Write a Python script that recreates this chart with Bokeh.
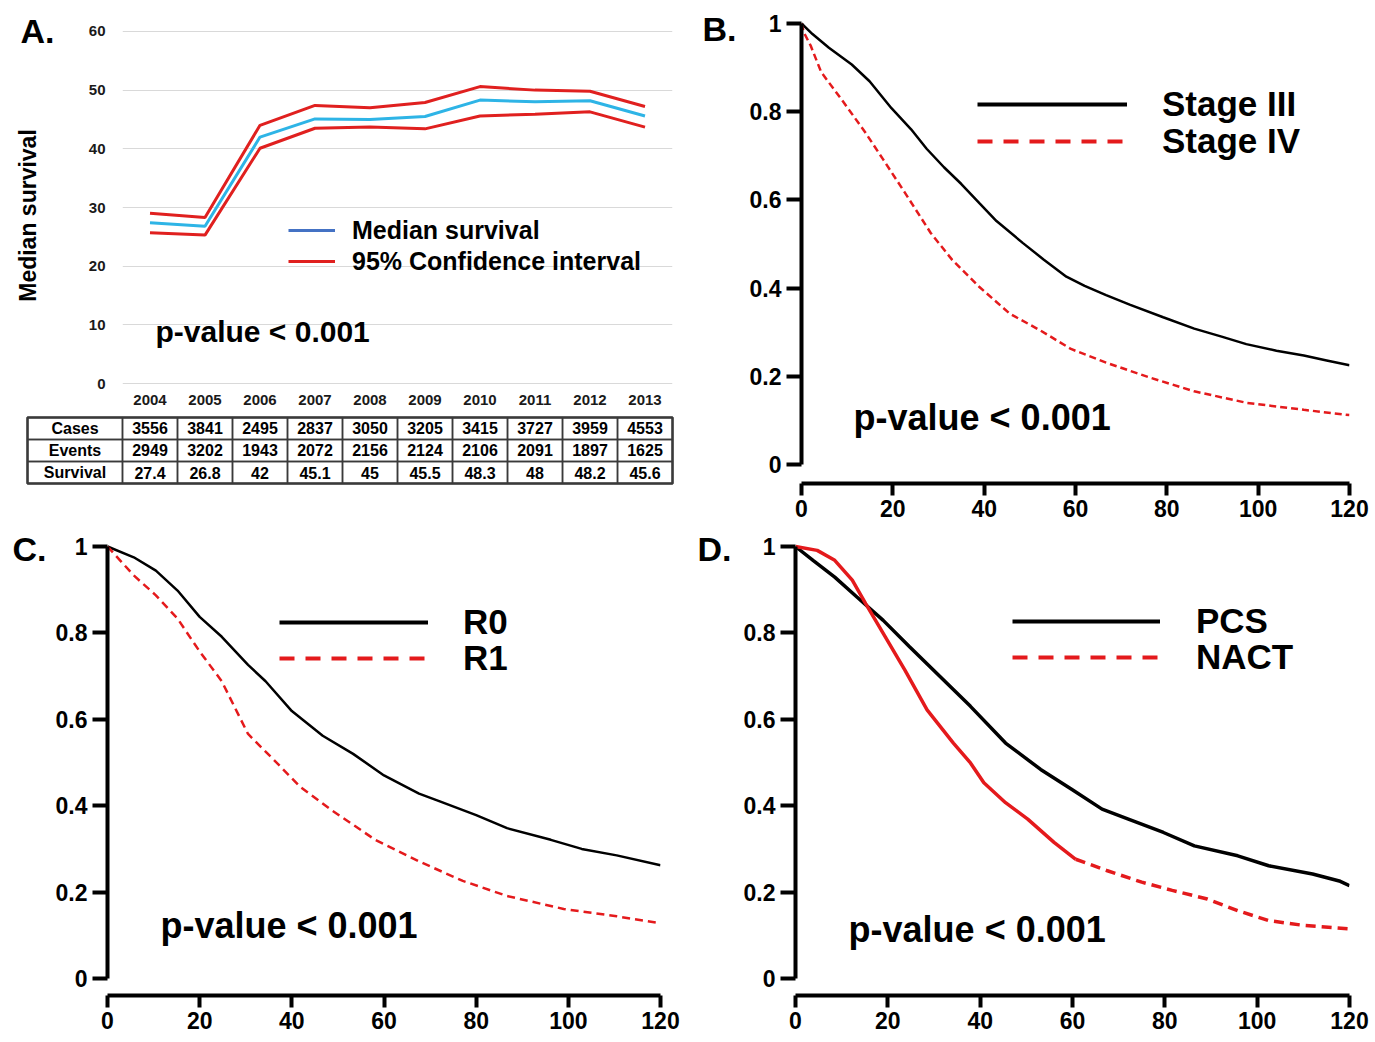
import math
from bokeh.plotting import figure
from bokeh.models import Range1d, FactorRange, FixedTicker, Label, Legend, LegendItem
from bokeh.layouts import column, row
from bokeh.embed import file_html
from bokeh.resources import INLINE
from bokeh.core.properties import value

FONT = "Liberation Sans"

# ---------------- Panel A data ----------------
years = ["2004", "2005", "2006", "2007", "2008", "2009", "2010", "2011", "2012", "2013"]
median_survival = [27.4, 26.8, 42, 45.1, 45, 45.5, 48.3, 48, 48.2, 45.6]
ci_upper = [29.0, 28.3, 44.0, 47.4, 47.0, 47.9, 50.6, 50.0, 49.8, 47.2]
ci_lower = [25.7, 25.3, 40.1, 43.5, 43.7, 43.4, 45.6, 45.9, 46.3, 43.7]
a_yticks = [0, 10, 20, 30, 40, 50, 60]
table_row_names = ["Cases", "Events", "Survival"]
cases = [3556, 3841, 2495, 2837, 3050, 3205, 3415, 3727, 3959, 4553]
events = [2949, 3202, 1943, 2072, 2156, 2124, 2106, 2091, 1897, 1625]

# ---------------- KM data (months, survival) ----------------
km_xticks = [0, 20, 40, 60, 80, 100, 120]
km_yticks = [0, 0.2, 0.4, 0.6, 0.8, 1]
km_ytick_labels = ["0", "0.2", "0.4", "0.6", "0.8", "1"]

stage3_m = [0, 2.4, 6, 11, 14.9, 19.7, 24, 27.4, 31.2, 35, 39, 42.7, 48.5, 53, 58, 62, 66.7, 72, 79.2, 86, 92, 97.4, 104, 110, 115, 120]
stage3_s = [1.0, 0.976, 0.945, 0.907, 0.869, 0.808, 0.76, 0.716, 0.674, 0.636, 0.592, 0.552, 0.502, 0.465, 0.426, 0.405, 0.384, 0.362, 0.334, 0.308, 0.29, 0.273, 0.258, 0.247, 0.236, 0.225]
stage4_m = [0, 0.5, 2, 4.3, 9.1, 13.9, 17.8, 22.6, 28.3, 33, 38.9, 45.6, 52.3, 59, 66.7, 76.3, 86, 97.4, 110, 120]
stage4_s = [1.0, 0.98, 0.95, 0.89, 0.823, 0.754, 0.693, 0.617, 0.525, 0.464, 0.403, 0.342, 0.304, 0.262, 0.231, 0.197, 0.166, 0.140, 0.124, 0.112]

r0_m = [0, 5.7, 10.5, 15.2, 20, 24.8, 30.5, 34.3, 40, 46.7, 53.3, 60, 67.6, 72.4, 80, 86.7, 96.2, 102.9, 110.5, 120]
r0_s = [1.0, 0.975, 0.944, 0.898, 0.837, 0.791, 0.726, 0.688, 0.619, 0.562, 0.520, 0.470, 0.428, 0.409, 0.378, 0.348, 0.321, 0.300, 0.285, 0.262]
r1_m = [0, 5.7, 10.5, 15.2, 20, 24.8, 30.5, 36.2, 41.9, 48.6, 58.1, 67.6, 77.1, 86.7, 99, 110.5, 120]
r1_s = [1.0, 0.933, 0.887, 0.833, 0.757, 0.688, 0.566, 0.505, 0.443, 0.390, 0.321, 0.271, 0.226, 0.191, 0.161, 0.144, 0.128]

pcs_m = [0, 3.8, 8.5, 13.3, 19, 24.7, 31.3, 37.9, 45.5, 53.1, 59.8, 66.4, 72.1, 79.7, 86.4, 95.8, 102.5, 112, 118, 120]
pcs_s = [1.0, 0.968, 0.929, 0.883, 0.829, 0.768, 0.699, 0.630, 0.545, 0.484, 0.438, 0.392, 0.369, 0.338, 0.307, 0.284, 0.261, 0.242, 0.225, 0.215]
nact_m = [0, 4.7, 8.5, 12.3, 15.2, 19, 23.7, 28.5, 34.2, 37.9, 40.8, 45.5, 50.3, 56, 60.7, 67.4, 75, 81.6, 89.2, 95.8, 102.5, 110, 120]
nact_s = [1.0, 0.991, 0.968, 0.922, 0.868, 0.799, 0.714, 0.622, 0.545, 0.499, 0.453, 0.407, 0.369, 0.315, 0.276, 0.250, 0.223, 0.204, 0.184, 0.157, 0.134, 0.123, 0.115]
nact_dash_from = 60.7

RED = "#E41A1C"


def bold_label(text, x, y, size, units="screen", angle=0.0, align="left"):
    return Label(x=x, y=y, x_units=units, y_units=units, text=text, angle=angle,
                 text_font=FONT, text_font_style="bold", text_font_size=size,
                 text_align=align, text_baseline="middle", text_color="black")


def one_legend(p, label, renderer, x, y, gw, gh, standoff, size):
    leg = Legend(items=[LegendItem(label=label, renderers=[renderer])],
                 location=(x, y), glyph_width=gw, glyph_height=gh, label_height=gh,
                 label_standoff=standoff, padding=0, margin=0, spacing=0,
                 border_line_color=None, background_fill_alpha=0,
                 label_text_font=FONT, label_text_font_style="bold",
                 label_text_font_size=size, label_text_color="black")
    p.add_layout(leg)


def blank_fig(w, h):
    f = figure(width=w, height=h, x_range=Range1d(0, w), y_range=Range1d(0, h),
               output_backend="svg", toolbar_location=None, min_border=0,
               x_axis_location=None, y_axis_location=None)
    f.outline_line_color = None
    f.grid.visible = False
    return f


# ---------------- Panel A chart ----------------
letterA = blank_fig(62, 414)
letterA.add_layout(bold_label("A.", 20, 384, "34px"))
letterA.add_layout(bold_label("Median survival", 27, 199, "23px", angle=math.pi / 2, align="center"))

pA = figure(width=628, height=414, x_range=FactorRange(*years), y_range=Range1d(-0.5, 60.5),
            output_backend="svg", toolbar_location=None,
            min_border_left=60, min_border_right=18, min_border_top=28, min_border_bottom=28)
pA.outline_line_color = None
pA.xgrid.visible = False
pA.ygrid.grid_line_color = "#d9d9d9"
pA.ygrid.grid_line_width = 1.2
pA.yaxis.ticker = FixedTicker(ticks=a_yticks)
for ax in (pA.xaxis[0], pA.yaxis[0]):
    ax.axis_line_color = None
    ax.major_tick_out = 0
    ax.major_tick_in = 0
    ax.minor_tick_out = 0
    ax.minor_tick_in = 0
    ax.major_label_text_font = FONT
    ax.major_label_text_font_style = "bold"
    ax.major_label_text_color = "#1a1a1a"
pA.xaxis.major_label_text_font_size = "15px"
pA.xaxis.major_label_standoff = 8
pA.yaxis.major_label_text_font_size = "15px"
pA.yaxis.major_label_standoff = 17

pA.line(years, ci_upper, line_color="#E0201F", line_width=3)
pA.line(years, ci_lower, line_color="#E0201F", line_width=3)
pA.line(years, median_survival, line_color="#2EB4E6", line_width=3)
legA1 = pA.line(years[:1], median_survival[:1], line_color="#4472C4", line_width=3)
legA2 = pA.line(years[:1], ci_upper[:1], line_color="#E0201F", line_width=3)
one_legend(pA, "Median survival", legA1, 166, 141, 47, 30, 17, "25px")
one_legend(pA, "95% Confidence interval", legA2, 166, 110, 47, 30, 17, "25px")
pA.add_layout(bold_label("p-value < 0.001", 33, 55, "30px"))

# ---------------- Panel A table ----------------
pT = figure(width=690, height=114, x_range=Range1d(-2.218, 10.327), y_range=Range1d(5.045, -0.136),
            output_backend="svg", toolbar_location=None, min_border=0,
            x_axis_location=None, y_axis_location=None)
pT.outline_line_color = None
pT.grid.visible = False
table_values = [[str(v) for v in cases], [str(v) for v in events], [f"{v:g}" for v in median_survival]]
label_col_left = -1.727
cl, cr, ct, cb, cx, cy, ctxt = [], [], [], [], [], [], []
for r, name in enumerate(table_row_names):
    cl.append(label_col_left); cr.append(0); ct.append(r); cb.append(r + 1)
    cx.append(label_col_left / 2); cy.append(r + 0.5); ctxt.append(name)
    for i, txt in enumerate(table_values[r]):
        cl.append(i); cr.append(i + 1); ct.append(r); cb.append(r + 1)
        cx.append(i + 0.5); cy.append(r + 0.5); ctxt.append(txt)
pT.quad(left=cl, right=cr, top=ct, bottom=cb, fill_color=None, line_color="#3a3a3a", line_width=1.5)
pT.quad(left=[label_col_left], right=[len(years)], top=[0], bottom=[len(table_row_names)],
        fill_color=None, line_color="#3a3a3a", line_width=2.5)
pT.text(x=cx, y=cy, text=ctxt, text_font=value(FONT), text_font_style="bold", text_font_size="16px",
        text_align="center", text_baseline="middle", text_color="black")


# ---------------- KM panels ----------------
def km_panel(W, H, fl, fr, y1, y0, xb, curves, legends, leg_x, leg_y, gw, standoff, pval_xy):
    ppu = y0 - y1
    p = figure(width=W, height=H, x_range=Range1d(0, 120),
               y_range=Range1d(-(xb - y0) / ppu, 1 + 4 / ppu),
               output_backend="svg", toolbar_location=None,
               min_border_left=fl, min_border_right=W - fr, min_border_top=y1 - 4, min_border_bottom=H - xb)
    p.outline_line_color = None
    p.grid.visible = False
    p.xaxis.ticker = FixedTicker(ticks=km_xticks)
    p.xaxis.bounds = (0, 120)
    p.yaxis.ticker = FixedTicker(ticks=km_yticks)
    p.yaxis.bounds = (0, 1)
    p.yaxis.major_label_overrides = {t: l for t, l in zip(km_yticks, km_ytick_labels)}
    for ax in (p.xaxis[0], p.yaxis[0]):
        ax.axis_line_width = 4
        ax.axis_line_color = "black"
        ax.major_tick_line_width = 4
        ax.major_tick_line_color = "black"
        ax.major_tick_in = 0
        ax.minor_tick_out = 0
        ax.minor_tick_in = 0
        ax.major_label_text_font = FONT
        ax.major_label_text_font_style = "bold"
        ax.major_label_text_font_size = "23px"
        ax.major_label_text_color = "black"
    p.xaxis.major_tick_out = 12
    p.xaxis.major_label_standoff = 4
    p.yaxis.major_tick_out = 15
    p.yaxis.major_label_standoff = 5
    for (xs, ys, color, width, dash) in curves:
        p.line(xs, ys, line_color=color, line_width=width, line_dash=dash)
    for k, (lab, xs, ys, color, dash) in enumerate(legends):
        r = p.line(xs[:1], ys[:1], line_color=color, line_width=4, line_dash=dash)
        one_legend(p, lab, r, leg_x, leg_y[k], gw, 40, standoff, "35px")
    p.add_layout(bold_label("p-value < 0.001", pval_xy[0], pval_xy[1], "36px", units="data"))
    return p


letterB = blank_fig(55, 528)
letterB.add_layout(bold_label("B.", 12, 500, "34px"))
pB = km_panel(629, 528, 56, 604, 23, 464, 483,
              [(stage3_m, stage3_s, "black", 2.5, "solid"),
               (stage4_m, stage4_s, RED, 2.5, "7 4")],
              [("Stage III", stage3_m, stage3_s, "black", "solid"),
               ("Stage IV", stage4_m, stage4_s, RED, "15 11")],
              176, [359, 322], 150, 35, (11.4, 0.107))

letterC = blank_fig(52, 512)
letterC.add_layout(bold_label("C.", 12, 492, "34px"))
pC = km_panel(638, 512, 55, 608, 18, 450, 467,
              [(r0_m, r0_s, "black", 2.5, "solid"),
               (r1_m, r1_s, RED, 2.5, "8 5")],
              [("R0", r0_m, r0_s, "black", "solid"),
               ("R1", r1_m, r1_s, RED, "15 11")],
              172, [353, 317], 149, 35, (11.5, 0.122))

nact_solid_m = [m for m in nact_m if m <= nact_dash_from]
nact_solid_s = nact_s[:len(nact_solid_m)]
nact_dash_m = nact_m[len(nact_solid_m) - 1:]
nact_dash_s = nact_s[len(nact_solid_m) - 1:]
letterD = blank_fig(50, 512)
letterD.add_layout(bold_label("D.", 7, 492, "34px"))
pD = km_panel(634, 512, 55, 609, 18, 450, 467,
              [(pcs_m, pcs_s, "black", 3.5, "solid"),
               (nact_solid_m, nact_solid_s, RED, 3.5, "solid"),
               (nact_dash_m, nact_dash_s, RED, 3.5, "10 6")],
              [("PCS", pcs_m, pcs_s, "black", "solid"),
               ("NACT", nact_m, nact_s, RED, "15 11")],
              217, [354, 318], 148, 36, (11.5, 0.113))

top = row(column(row(column(letterA), pA), row(pT)), column(letterB), pB)
bottom = row(column(letterC), pC, column(letterD), pD)
layout = column(top, bottom)
open("out.html", "w").write(file_html(layout, INLINE))
